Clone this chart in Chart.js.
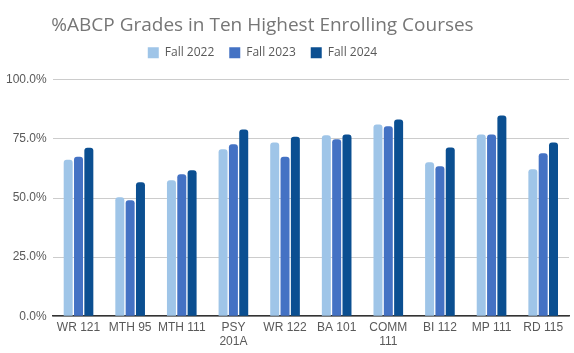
<!DOCTYPE html>
<html>
<head>
<meta charset="utf-8">
<script src="https://cdn.jsdelivr.net/npm/chart.js@4/dist/chart.umd.min.js"></script>
<style>
  html, body { margin: 0; padding: 0; background: #fff; }
  #wrap { width: 574px; height: 353px; }
</style>
</head>
<body>
<div id="wrap"><canvas id="gradesChart" width="574" height="353"></canvas></div>
<script>
const courses = ['WR 121', 'MTH 95', 'MTH 111', ['PSY', '201A'], 'WR 122', 'BA 101', ['COMM', '111'], 'BI 112', 'MP 111', 'RD 115'];
const fall2022 = [66.2, 50.3, 57.5, 70.6, 73.5, 76.5, 81.1, 65.1, 76.9, 62.2];
const fall2023 = [67.5, 49.1, 60.0, 72.7, 67.5, 74.8, 80.3, 63.4, 76.9, 68.9];
const fall2024 = [71.3, 56.7, 61.7, 79.0, 75.9, 76.9, 83.2, 71.4, 84.9, 73.5];
const yTicks = [0, 25, 50, 75, 100];

const barStyle = {
    barPercentage: 0.87,
    categoryPercentage: 0.6,
    borderRadius: { topLeft: 3, topRight: 3 },
    borderSkipped: 'bottom'
};

// header sits a bit left of centre in the original, with some room under the legend
const headerTweak = {
    id: 'headerTweak',
    beforeInit(chart) {
        const fit = chart.legend.fit;
        chart.legend.fit = function () {
            fit.bind(chart.legend)();
            this.height += 11;
        };
    },
    afterLayout(chart) {
        [chart.titleBlock, chart.legend].forEach(box => {
            box.left -= 22;
            box.right -= 22;
        });
    }
};

const ctx = document.getElementById('gradesChart').getContext('2d');
new Chart(ctx, {
    type: 'bar',
    data: {
        labels: courses,
        datasets: [
            Object.assign({ label: 'Fall 2022', data: fall2022, backgroundColor: '#9fc5e8' }, barStyle),
            Object.assign({ label: 'Fall 2023', data: fall2023, backgroundColor: '#4472c4' }, barStyle),
            Object.assign({ label: 'Fall 2024', data: fall2024, backgroundColor: '#0b4f91' }, barStyle)
        ]
    },
    plugins: [headerTweak],
    options: {
        responsive: false,
        animation: false,
        layout: { padding: { left: 0, right: 5, top: 12, bottom: 0 } },
        plugins: {
            title: {
                display: true,
                text: '%ABCP Grades in Ten Highest Enrolling Courses',
                color: '#767676',
                font: { family: 'Open Sans', size: 19, weight: 'normal' },
                padding: { top: 2, bottom: -5 }
            },
            legend: {
                position: 'top',
                labels: {
                    color: '#595959',
                    font: { family: 'Open Sans', size: 12 },
                    boxWidth: 11,
                    boxHeight: 11,
                    padding: 15
                }
            },
            tooltip: { enabled: false }
        },
        scales: {
            x: {
                grid: { display: false, drawTicks: false },
                border: { display: true, color: '#333333', width: 1.5 },
                ticks: {
                    color: '#595959',
                    font: { family: 'Liberation Sans', size: 12 },
                    maxRotation: 0,
                    autoSkip: false,
                    padding: 4
                }
            },
            y: {
                min: 0,
                max: 100,
                afterBuildTicks: function (axis) {
                    axis.ticks = yTicks.map(v => ({ value: v }));
                },
                grid: { color: '#cccccc', drawTicks: false },
                border: { display: false },
                ticks: {
                    color: '#595959',
                    font: { family: 'Liberation Sans', size: 12 },
                    padding: 6,
                    callback: function (value) {
                        return value.toFixed(1) + '%';
                    }
                }
            }
        }
    }
});
</script>
</body>
</html>
